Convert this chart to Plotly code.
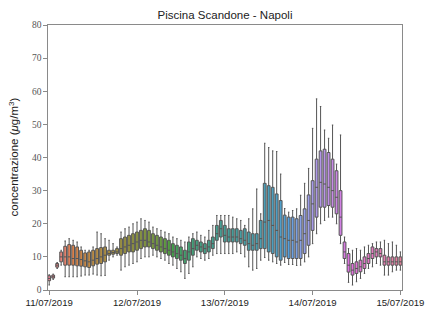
import math
import colorsys
import plotly.graph_objects as go

# ---- data (boxes) ----
lo = [1.5, 3.2, 6.5, 7.5, 4.0, 4.0, 4.0, 4.0, 4.2, 4.5, 4.5, 4.8, 4.5, 4.3, 4.4, 9.0, 10.0, 10.5, 6.0, 7.0, 7.5, 8.0,
      8.5, 9.5, 10.0, 10.0, 10.5, 10.0, 9.5, 9.0, 8.0, 7.5, 6.5, 5.5, 3.5, 5.0, 7.0, 10.0, 9.5, 9.0, 9.5, 10.5, 11.0, 11.0,
      11.0, 11.0, 11.0, 11.5, 11.0, 10.0, 7.0, 6.0, 6.5, 9.0, 9.8, 9.0, 8.5, 8.0, 7.5, 8.3, 7.7, 7.7, 7.4, 7.5, 8.5, 10.0,
      14.0, 17.0, 20.0, 21.0, 22.0, 22.0, 20.0, 14.0, 8.0, 2.3, 1.5, 2.5, 3.5, 5.0, 6.5, 7.0, 8.0, 7.5, 4.5, 4.5, 5.5, 6.0,
      6.0]
q1 = [2.8, 3.6, 6.9, 8.5, 7.5, 7.5, 7.5, 7.3, 7.2, 7.0, 6.8, 7.3, 7.8, 8.0, 8.5, 10.5, 10.8, 11.0, 10.5, 11.0, 11.5, 11.5,
      12.0, 12.5, 13.0, 13.0, 12.5, 12.0, 11.5, 11.0, 10.5, 10.0, 9.5, 9.0, 8.0, 9.0, 10.5, 12.0, 11.5, 11.0, 11.5, 12.5,
      15.0, 16.0, 14.5, 14.5, 14.5, 14.5, 14.0, 13.5, 12.0, 12.0, 12.0, 12.5, 12.5, 11.5, 11.0, 10.0, 9.0, 10.0, 9.5, 9.5,
      9.5, 9.5, 11.0, 13.5, 18.0, 22.0, 25.0, 25.0, 25.5, 25.0, 23.0, 16.5, 9.5, 5.4, 4.5, 5.0, 5.5, 6.5, 8.0, 9.5, 10.0,
      10.0, 7.5, 7.5, 7.5, 7.5, 7.5]
med = [3.5, 4.0, 7.5, 10.0, 10.0, 10.0, 9.5, 9.5, 9.2, 8.8, 8.5, 9.0, 9.5, 10.0, 10.5, 11.0, 11.3, 11.5, 12.5, 13.0, 13.5,
       14.0, 14.5, 15.0, 15.0, 14.5, 14.0, 13.5, 13.0, 12.5, 12.0, 11.5, 11.0, 10.5, 9.5, 11.5, 12.5, 13.5, 13.0, 12.5, 13.0,
       14.0, 17.0, 18.5, 16.5, 16.0, 16.0, 16.0, 15.5, 15.0, 14.0, 13.5, 14.0, 15.5, 20.5, 21.0, 19.5, 18.0, 16.0, 15.5,
       15.0, 15.0, 14.5, 15.0, 17.0, 21.0, 26.0, 31.0, 32.5, 32.0, 31.0, 30.0, 28.0, 22.0, 11.5, 7.5, 6.0, 6.5, 7.0, 8.0,
       9.5, 11.0, 11.5, 11.0, 8.5, 8.5, 8.5, 8.5, 8.5]
q3 = [4.3, 4.5, 8.0, 11.5, 13.2, 13.7, 13.5, 13.0, 12.0, 11.2, 11.5, 12.0, 12.5, 12.8, 13.0, 12.0, 12.0, 12.5, 15.5, 16.0,
      16.5, 17.0, 17.5, 18.0, 18.5, 18.0, 17.0, 16.5, 16.0, 15.5, 15.0, 14.0, 13.5, 13.0, 12.0, 14.5, 15.5, 15.0, 14.5, 14.0,
      15.0, 16.0, 19.5, 21.0, 19.5, 18.5, 18.5, 18.5, 18.0, 18.5, 17.5, 17.0, 17.0, 21.0, 32.2, 31.5, 31.0, 29.0, 27.0,
      22.6, 22.0, 22.0, 21.5, 22.5, 24.5, 28.7, 33.0, 39.5, 42.0, 42.5, 41.5, 39.5, 36.0, 30.0, 14.5, 11.0, 8.0, 8.5, 9.0,
      10.0, 11.0, 13.0, 12.5, 12.5, 10.5, 10.0, 10.0, 10.0, 10.0]
hi = [4.6, 4.8, 8.3, 12.0, 14.8, 15.5, 15.0, 14.5, 13.0, 12.0, 12.0, 13.0, 17.5, 17.0, 15.5, 15.0, 14.0, 13.0, 17.5, 18.5,
      19.0, 20.0, 20.5, 21.5, 21.0, 20.5, 19.0, 18.5, 18.0, 17.5, 17.0, 16.0, 15.5, 15.0, 14.5, 16.0, 17.0, 17.5, 16.5, 16.0,
      18.0, 19.5, 22.5, 22.5, 22.5, 22.5, 22.0, 21.5, 21.0, 19.5, 21.5, 24.5, 30.5, 23.0, 44.3, 43.0, 42.0, 41.8, 35.0,
      24.6, 23.5, 24.0, 24.5, 28.6, 32.2, 36.7, 48.8, 57.7, 55.4, 48.3, 45.8, 49.8, 38.0, 46.8, 16.0, 12.5, 12.0, 12.5,
      12.0, 13.0, 13.5, 14.0, 14.5, 14.5, 15.0, 14.0, 14.5, 13.5, 11.5]

day_labels = ["11/07/2019", "12/07/2019", "13/07/2019", "14/07/2019", "15/07/2019"]
boxes_per_day = 22

title_text = "Piscina Scandone - Napoli"
ylabel_text = "concentrazione (<i>\u03bc</i>g/m<sup>3</sup>)"

# ---- seaborn-like husl palette ----
M = [[3.2406, -1.5372, -0.4986], [-0.9689, 1.8758, 0.0415], [0.0557, -0.2040, 1.0570]]
refU, refV = 0.19784, 0.46834
lab_e, lab_k = 0.008856, 903.3


def max_chroma(L, H):
    hrad = math.radians(H)
    sinH, cosH = math.sin(hrad), math.cos(hrad)
    sub1 = (L + 16) ** 3 / 1560896.0
    sub2 = sub1 if sub1 > 0.008856 else L / 903.3
    result = float("inf")
    for m1, m2, m3 in M:
        top = (0.99915 * m1 + 1.05122 * m2 + 1.14460 * m3) * sub2
        rbottom = 0.86330 * m3 - 0.17266 * m2
        lbottom = 0.12949 * m3 - 0.38848 * m1
        bottom = (rbottom * sinH + lbottom * cosH) * sub2
        for t in (0.0, 1.0):
            C = L * (top - 1.05122 * t) / (bottom + 0.17266 * sinH * t)
            if 0.0 < C < result:
                result = C
    return result


def f_inv(t):
    return t ** 3 if t ** 3 > lab_e else (116 * t - 16) / lab_k


def from_linear(c):
    return 12.92 * c if c <= 0.0031308 else 1.055 * c ** (1 / 2.4) - 0.055


def husl_to_rgb(h, s, l):
    C = max_chroma(l, h) / 100.0 * s
    hr = math.radians(h)
    U, V = math.cos(hr) * C, math.sin(hr) * C
    varY = f_inv((l + 16) / 116.0)
    varU = U / (13 * l) + refU
    varV = V / (13 * l) + refV
    Y = varY
    X = -(9 * Y * varU) / ((varU - 4) * varV - varU * varV)
    Z = (9 * Y - 15 * varV * Y - varV * X) / (3 * varV)
    rgb = [from_linear(m[0] * X + m[1] * Y + m[2] * Z) for m in M]
    return [min(1, max(0, c)) for c in rgb]


n = len(med)
cols = []
for i in range(n):
    h = ((i / n) + 0.01) % 1 * 359
    r, g, b = husl_to_rgb(h, 0.9 * 99, 0.65 * 99)
    hh, ll, ss = colorsys.rgb_to_hls(r, g, b)
    r, g, b = colorsys.hls_to_rgb(hh, ll, ss * 0.75)
    cols.append((r, g, b))
gray = "rgb(85,85,85)"

fig = go.Figure()
for i in range(n):
    r, g, b = cols[i]
    fig.add_trace(go.Box(
        x=[i], q1=[q1[i]], median=[med[i]], q3=[q3[i]],
        lowerfence=[lo[i]], upperfence=[hi[i]],
        width=0.7, whiskerwidth=0.5,
        fillcolor="rgb(%d,%d,%d)" % (round(r * 255), round(g * 255), round(b * 255)),
        line=dict(color=gray, width=1),
        boxpoints=False, showlegend=False, hoverinfo="skip",
    ))

tickpos = [k * boxes_per_day for k in range(len(day_labels))]

fig.update_layout(
    width=429, height=311, autosize=False,
    margin=dict(l=48, r=27, t=25, b=21, autoexpand=False),
    plot_bgcolor="white", paper_bgcolor="white",
    boxmode="overlay",
    title=dict(text=title_text, x=(48 + 402) / 2 / 429, xanchor="center",
               y=1 - 15 / 311, yanchor="middle", yref="container", automargin=False,
               font=dict(family="Liberation Sans, Arial, sans-serif", size=11.5, color="#222")),
    xaxis=dict(range=[-0.3, 88.4], tickvals=tickpos, ticktext=day_labels, automargin=False,
               showgrid=False, zeroline=False, showline=True, mirror=True,
               linecolor="#8a8a8a", linewidth=1.3, ticks="outside", ticklen=3.5,
               tickcolor="#8a8a8a", tickwidth=1,
               tickfont=dict(family="Liberation Sans, Arial, sans-serif", size=9.6, color="#222")),
    yaxis=dict(range=[0, 80], tickvals=list(range(0, 81, 10)), automargin=False,
               showgrid=False, zeroline=False, showline=True, mirror=True,
               linecolor="#8a8a8a", linewidth=1.3, ticks="outside", ticklen=3.5,
               tickcolor="#8a8a8a", tickwidth=1,
               tickfont=dict(family="Liberation Serif, DejaVu Serif, serif", size=9.5, color="#555")),
    annotations=[dict(text=ylabel_text, textangle=-90, xref="paper", yref="paper",
                      x=(13 - 48) / 354, y=0.5, xanchor="center", yanchor="middle",
                      showarrow=False,
                      font=dict(family="Liberation Sans, Arial, sans-serif", size=11.5, color="#222"))],
)

fig.write_html("out.html", config={"displayModeBar": False},
               post_script="document.body.style.margin='0';document.body.style.padding='0';")
